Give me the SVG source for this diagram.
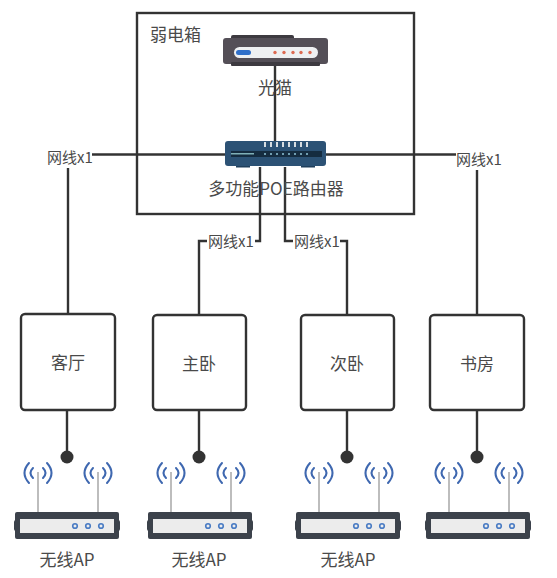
<svg xmlns="http://www.w3.org/2000/svg" width="557" height="578" viewBox="0 0 557 578">
<style>
text{font-family:"Noto Sans CJK SC","Liberation Sans",sans-serif;fill:#4a4a4a;font-size:17px}
.m{text-anchor:middle}
.s{font-size:15px}
.w{fill:none;stroke:#333;stroke-width:2.4}
.box{fill:#fff;stroke:#333;stroke-width:2.4}
.r{fill:none;stroke:#3f68b0;stroke-width:2;stroke-linecap:round}
</style>
<defs>
<g id="ap">
<path d="M38 32V73M98 32V73" stroke="#bdbdbd" stroke-width="2" fill="none"/>
<path class="r" d="M33 28Q28 33 33 38M43 28Q48 33 43 38M29 23Q20 33 29 43M47 23Q56 33 47 43M93 28Q88 33 93 38M103 28Q108 33 103 38M89 23Q80 33 89 43M107 23Q116 33 107 43"/>
<rect x="15" y="72" width="104" height="27" rx="2" fill="#3c424b"/>
<rect x="14" y="80" width="106" height="11" rx="2" fill="#3c424b"/>
<rect x="20" y="79" width="94" height="14" fill="#ececec"/>
<g fill="#ececec" stroke="#4a7cc4" stroke-width="1.600"><circle cx="75" cy="86" r="2.300"/><circle cx="88" cy="86" r="2.300"/><circle cx="101" cy="86" r="2.300"/></g>
</g>
</defs>
<rect width="557" height="578" fill="#fff"/>
<rect x="137" y="13" width="277" height="201" fill="none" stroke="#333" stroke-width="2.400"/>
<g id="connectors">
<path class="w" d="M275 60V145"/>
<path class="w" d="M68 154.500H480"/>
<path class="w" d="M68 165V314"/>
<path class="w" d="M477 165V314"/>
<path class="w" d="M260 167V241H255"/>
<path class="w" d="M199 315V241H207"/>
<path class="w" d="M285 167V241H293"/>
<path class="w" d="M347 315V241H340"/>
<path class="w" d="M67 410V455M199 410V455M347 410V455M477 410V455"/>
<g fill="#333"><circle cx="67" cy="457" r="6.500"/><circle cx="199" cy="457" r="6.500"/><circle cx="347" cy="457" r="6.500"/><circle cx="477" cy="457" r="6.500"/></g>
</g>
<g id="label-box"><text x="150" y="41">弱电箱</text></g>
<g id="modem">
<rect x="231" y="35" width="63" height="6" rx="2" fill="#3d3a40"/>
<rect x="223" y="38" width="105" height="26" rx="3" fill="#544f57"/>
<rect x="231" y="62" width="89" height="4" rx="1" fill="#3d3a40"/>
<rect x="234" y="47" width="84" height="11" rx="5.500" fill="#eef0f2"/>
<rect x="236" y="50" width="15" height="5" rx="2.500" fill="#2f6fc9"/>
<g fill="#dd6a52"><circle cx="275" cy="52.500" r="1.700"/><circle cx="284" cy="52.500" r="1.700"/><circle cx="293" cy="52.500" r="1.700"/><circle cx="301" cy="52.500" r="1.700"/><circle cx="310" cy="52.500" r="1.700"/></g>
<text class="m" x="275" y="94">光猫</text>
</g>
<g id="router">
<rect x="236" y="165" width="14" height="2.500" fill="#1f3f5c"/>
<rect x="301" y="165" width="14" height="2.500" fill="#1f3f5c"/>
<rect x="225" y="141" width="101" height="25" rx="3" fill="#2c5275"/>
<rect x="231" y="151" width="91" height="6" fill="#152c40"/>
<rect x="231" y="153" width="23" height="1.500" fill="#7fb0b8"/>
<g fill="#d8dee2"><rect x="264" y="142" width="2" height="5"/><rect x="270" y="142" width="2" height="5"/><rect x="276" y="142" width="2" height="5"/><rect x="282" y="142" width="2" height="5"/><rect x="288" y="142" width="2" height="5"/><rect x="294" y="142" width="2" height="5"/><rect x="300" y="142" width="2" height="5"/><rect x="306" y="142" width="2" height="5"/></g>
<g fill="#8fc4d8"><circle cx="265" cy="154" r="1"/><circle cx="271" cy="154" r="1"/><circle cx="277" cy="154" r="1"/><circle cx="283" cy="154" r="1"/><circle cx="289" cy="154" r="1"/><circle cx="295" cy="154" r="1"/><circle cx="301" cy="154" r="1"/><circle cx="307" cy="154" r="1"/></g>
<text class="m" x="276" y="195">多功能POE路由器</text>
</g>
<g id="label-l1"><rect x="46" y="148" width="46" height="20" fill="#fff"/><text class="m s" x="70" y="163">网线x1</text></g>
<g id="label-l2"><rect x="456" y="150" width="46" height="20" fill="#fff"/><text class="m s" x="479" y="165">网线x1</text></g>
<g id="label-l3"><text class="m s" x="231" y="247">网线x1</text></g>
<g id="label-l4"><text class="m s" x="317" y="247">网线x1</text></g>
<g id="room-1"><rect class="box" x="21" y="314" width="94" height="96" rx="4"/><text class="m" x="68" y="369">客厅</text></g>
<g id="room-2"><rect class="box" x="153" y="315" width="93" height="95" rx="4"/><text class="m" x="199" y="370">主卧</text></g>
<g id="room-3"><rect class="box" x="301" y="315" width="93" height="95" rx="4"/><text class="m" x="347" y="370">次卧</text></g>
<g id="room-4"><rect class="box" x="430" y="315" width="94" height="95" rx="4"/><text class="m" x="477" y="370">书房</text></g>
<g id="ap-1"><use href="#ap" transform="translate(0 440)"/><text class="m" x="67" y="566">无线AP</text></g>
<g id="ap-2"><use href="#ap" transform="translate(133 440)"/><text class="m" x="199" y="566">无线AP</text></g>
<g id="ap-3"><use href="#ap" transform="translate(281 440)"/><text class="m" x="348" y="566">无线AP</text></g>
<g id="ap-4"><use href="#ap" transform="translate(411 440)"/></g>
</svg>
